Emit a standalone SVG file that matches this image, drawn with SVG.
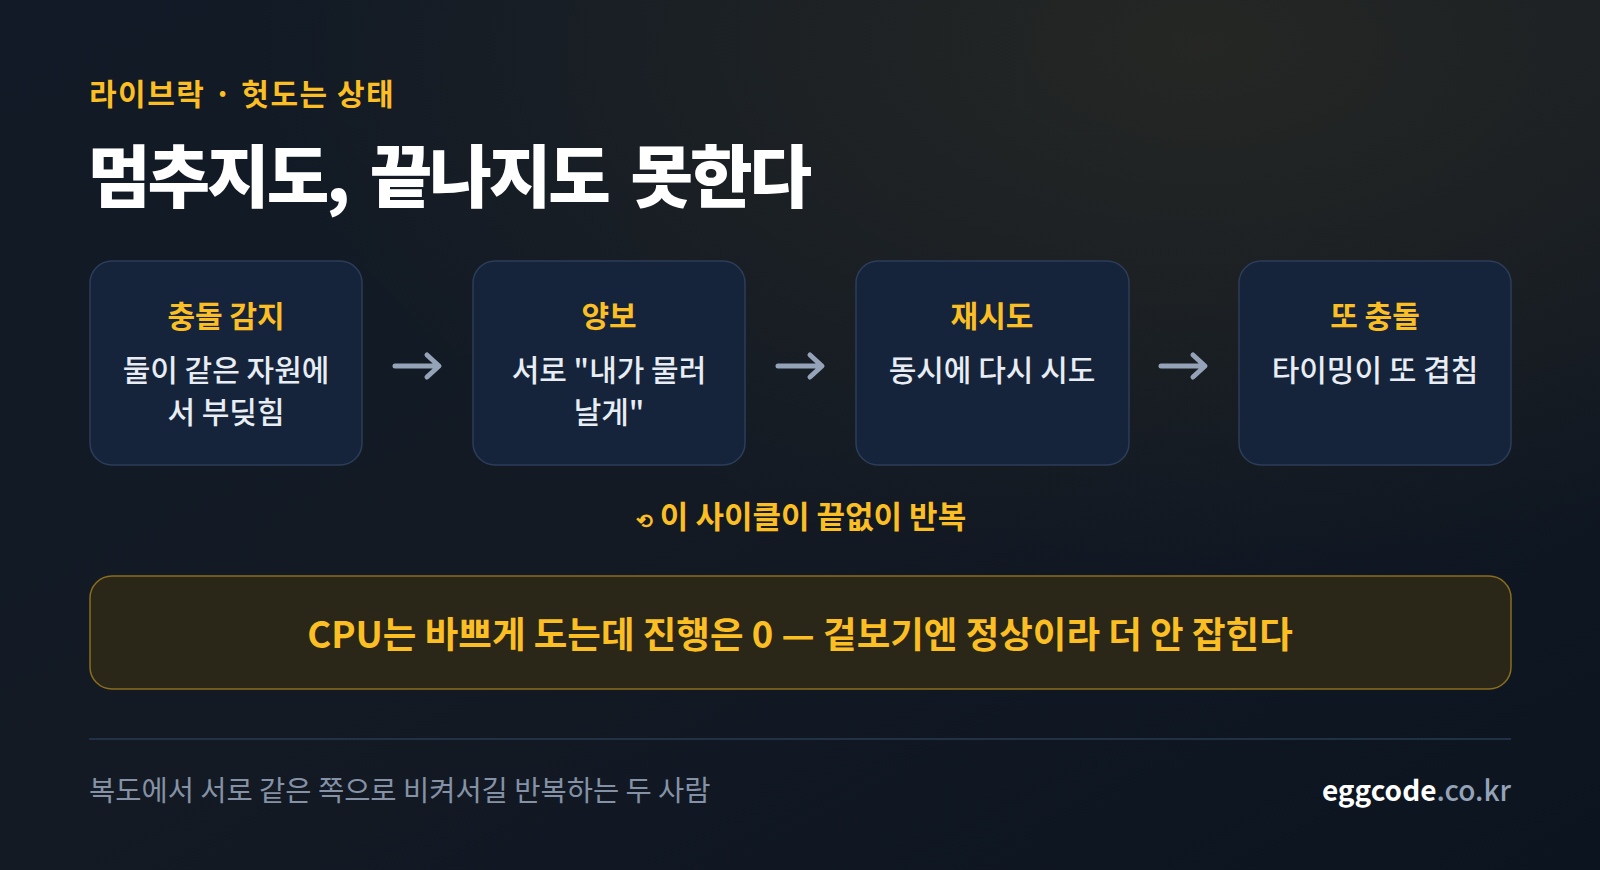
<svg xmlns="http://www.w3.org/2000/svg" width="1600" height="870" viewBox="0 0 1600 870">
<defs>
<linearGradient id="bg" x1="0" y1="0" x2="1" y2="1"><stop offset="0" stop-color="#111a26"/><stop offset="0.5" stop-color="#131a24"/><stop offset="1" stop-color="#0c1420"/></linearGradient>
<radialGradient id="glow" cx="0.75" cy="0.05" r="0.6"><stop offset="0" stop-color="#2a2a24" stop-opacity="0.8"/><stop offset="1" stop-color="#2a2a24" stop-opacity="0"/></radialGradient>
<style>
text{font-family:"Noto Sans CJK KR","Noto Sans",sans-serif}
.box{fill:#15243b;stroke:#2c3d59;stroke-width:1.5}
.bt{fill:#fbbf24;font-size:30px;font-weight:700;text-anchor:middle}
.bd{fill:#e8edf4;font-size:30px;font-weight:500;text-anchor:middle}
.ar{fill:none;stroke:#94a3b8;stroke-width:5;stroke-linecap:round;stroke-linejoin:round}
</style>
</defs>
<rect width="1600" height="870" fill="url(#bg)"/>
<rect width="1600" height="870" fill="url(#glow)"/>
<text x="89" y="105" fill="#fbbf24" font-size="30" font-weight="700" letter-spacing="1.5">라이브락 · 헛도는 상태</text>
<text x="88" y="202" fill="#ffffff" font-size="68" font-weight="900" letter-spacing="-3" word-spacing="10">멈추지도, 끝나지도 못한다</text>
<g id="n1"><rect class="box" x="90" y="261" width="272" height="204" rx="22"/><text class="bt" x="226" y="327">충돌 감지</text><text class="bd" x="226" y="381">둘이 같은 자원에</text><text class="bd" x="226" y="423">서 부딪힘</text></g>
<g id="n2"><rect class="box" x="473" y="261" width="272" height="204" rx="22"/><text class="bt" x="609" y="327">양보</text><text class="bd" x="609" y="381">서로 "내가 물러</text><text class="bd" x="609" y="423">날게"</text></g>
<g id="n3"><rect class="box" x="856" y="261" width="273" height="204" rx="22"/><text class="bt" x="992" y="327">재시도</text><text class="bd" x="992" y="381">동시에 다시 시도</text></g>
<g id="n4"><rect class="box" x="1239" y="261" width="272" height="204" rx="22"/><text class="bt" x="1375" y="327">또 충돌</text><text class="bd" x="1375" y="381">타이밍이 또 겹침</text></g>
<g id="connectors">
<path class="ar" d="M395 366 H437 M427 355 L439 366 L427 377"/>
<path class="ar" d="M778 366 H820 M810 355 L822 366 L810 377"/>
<path class="ar" d="M1161 366 H1203 M1193 355 L1205 366 L1193 377"/>
</g>
<text x="801" y="528" fill="#fbbf24" font-size="31" font-weight="700" text-anchor="middle"><tspan font-size="20">⟲</tspan> 이 사이클이 끝없이 반복</text>
<g id="banner"><rect x="90" y="576" width="1421" height="113" rx="22" fill="#2a2718" stroke="#8a6d1e" stroke-width="1.5"/><text x="800" y="648" fill="#fbbf24" font-size="36.5" font-weight="700" text-anchor="middle">CPU는 바쁘게 도는데 진행은 0 — 겉보기엔 정상이라 더 안 잡힌다</text></g>
<line x1="89" y1="739" x2="1511" y2="739" stroke="#2a3a52" stroke-width="1.5"/>
<text x="89" y="801" fill="#8592a6" font-size="28.5">복도에서 서로 같은 쪽으로 비켜서길 반복하는 두 사람</text>
<text x="1511" y="801" font-size="28" text-anchor="end" font-weight="700" fill="#ffffff">eggcode<tspan fill="#94a3b8" font-weight="500">.co.kr</tspan></text>
</svg>
